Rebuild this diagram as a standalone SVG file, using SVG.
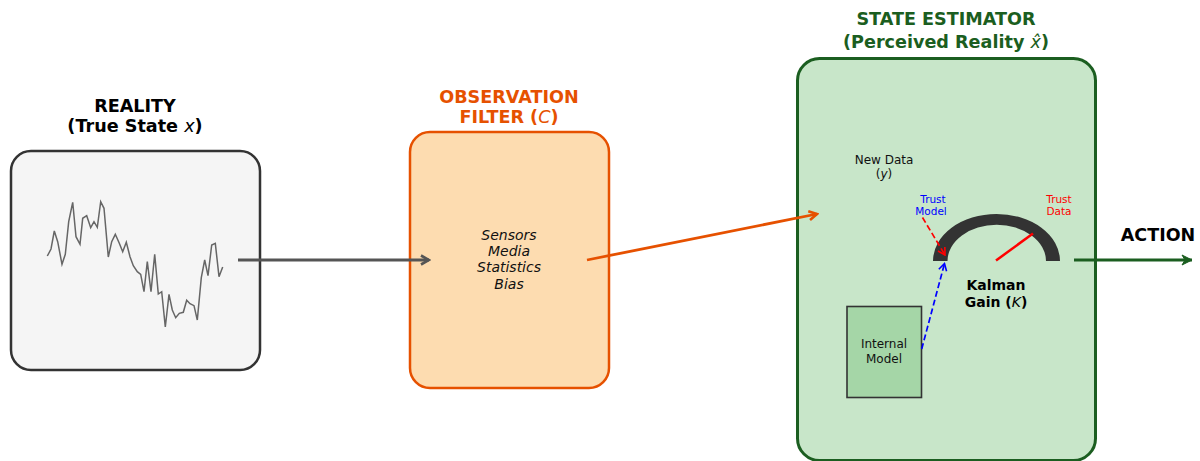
<svg xmlns="http://www.w3.org/2000/svg" width="1200" height="461" viewBox="0 0 1200 461">
  <style>
    text { font-family: "DejaVu Sans", "Liberation Sans", sans-serif; text-anchor: middle; }
    .title { font-size: 17.6px; font-weight: bold; }
    .body { font-size: 14px; font-style: italic; fill: #111; }
    .small { font-size: 12px; fill: #111; }
    .tiny { font-size: 10.5px; }
    .conn { fill: none; stroke-width: 2.8; }
    .dash { stroke-width: 1.7; stroke-dasharray: 6,3; }
  </style>
  <defs>
    <marker id="headGray" viewBox="0 0 12 12" refX="10" refY="6" markerWidth="12" markerHeight="12" markerUnits="userSpaceOnUse" orient="auto">
      <polyline points="2,1.5 10,6 2,10.5" fill="none" stroke="#555" stroke-width="2.6"/>
    </marker>
    <marker id="headOrange" viewBox="0 0 12 12" refX="10" refY="6" markerWidth="12" markerHeight="12" markerUnits="userSpaceOnUse" orient="auto">
      <polyline points="2,1.5 10,6 2,10.5" fill="none" stroke="#e65100" stroke-width="2.6"/>
    </marker>
    <marker id="headGreen" viewBox="0 0 12 12" refX="11" refY="6" markerWidth="12" markerHeight="12" markerUnits="userSpaceOnUse" orient="auto">
      <path d="M1,1 L11,6 L1,11 L4,6 Z" fill="#1b5e20" stroke="#1b5e20" stroke-width="1"/>
    </marker>
    <marker id="headRed" viewBox="0 0 10 10" refX="9" refY="5" markerWidth="10" markerHeight="10" markerUnits="userSpaceOnUse" orient="auto">
      <polyline points="2,1 9,5 2,9" fill="none" stroke="#ff0000" stroke-width="1.6"/>
    </marker>
    <marker id="headBlue" viewBox="0 0 10 10" refX="9" refY="5" markerWidth="10" markerHeight="10" markerUnits="userSpaceOnUse" orient="auto">
      <polyline points="2,1 9,5 2,9" fill="none" stroke="#0000ff" stroke-width="1.6"/>
    </marker>
  </defs>

  <!-- Reality: true state signal -->
  <g id="reality">
    <rect x="11" y="151" width="249" height="219" rx="20" fill="#f5f5f5" stroke="#333" stroke-width="2.5"/>
    <polyline fill="none" stroke="#666" stroke-width="1.5" points="47.3,256 51,249 54.3,231 57.7,241.7 62,264.3 65.3,254.3 68.7,221.7 72.7,202.3 76,236.7 80,244.3 82.7,218.3 86.7,215.7 90.7,227.7 94,221.7 97.3,227.3 100.7,201.7 104,208.3 108.3,257 111.7,241.7 115.3,234.3 119.3,243.3 122.7,251.7 126.3,242.3 130,256.7 133.3,265.7 137.3,271.7 140.7,274.3 144,291.7 147.3,261.7 151,291.7 154.7,254.3 158.3,294 161.7,291.7 165.3,327 169,294.3 172.3,310 175.7,317.7 179.3,313.3 183.3,312.3 186.7,300.3 190,303.7 194,305.7 197.3,320 201.3,277.7 204.7,260 208,275.7 211.7,245 215.3,243.3 219,276.7 222.7,267"/>
    <text class="title" x="135" y="112">REALITY</text>
    <text class="title" x="135" y="132">(True State <tspan font-style="italic" font-weight="normal">x</tspan>)</text>
  </g>

  <!-- Observation filter -->
  <g id="filter">
    <rect x="410" y="132" width="199" height="256" rx="20" fill="#fddcb0" stroke="#e65100" stroke-width="2.5"/>
    <text class="title" x="509" y="103" fill="#e65100">OBSERVATION</text>
    <text class="title" x="509" y="123" fill="#e65100">FILTER (<tspan font-style="italic" font-weight="normal">C</tspan>)</text>
    <text class="body" x="509" y="240">Sensors</text>
    <text class="body" x="509" y="256">Media</text>
    <text class="body" x="509" y="272">Statistics</text>
    <text class="body" x="509" y="289">Bias</text>
  </g>

  <!-- State estimator -->
  <g id="estimator">
    <rect x="797.5" y="58.5" width="298" height="402" rx="22" fill="#c8e6c9" stroke="#1b5e20" stroke-width="3"/>
    <text class="title" x="946" y="25" fill="#1b5e20">STATE ESTIMATOR</text>
    <text class="title" x="946" y="48" fill="#1b5e20">(Perceived Reality <tspan font-style="italic" font-weight="normal">x̂</tspan>)</text>
    <text class="small" x="884" y="164">New Data</text>
    <text class="small" x="884" y="178">(<tspan font-style="italic">y</tspan>)</text>
  </g>

  <!-- Internal model -->
  <g id="internal-model">
    <rect x="847" y="306.5" width="74.5" height="91" fill="#a5d6a7" stroke="#333" stroke-width="1.6"/>
    <text class="small" x="884" y="348">Internal</text>
    <text class="small" x="884" y="362.5">Model</text>
  </g>

  <!-- Kalman gain dial -->
  <g id="kalman-gain">
    <path d="M933,261 A63.5,47 0 0 1 1060,261 L1046,261 A49,36 0 0 0 947.5,261 Z" fill="#333"/>
    <line x1="996" y1="260.5" x2="1033" y2="233.5" stroke="#ff0000" stroke-width="2.5"/>
    <text class="tiny" x="933" y="202.5" fill="#0000ff">Trust</text>
    <text class="tiny" x="931" y="214.5" fill="#0000ff">Model</text>
    <text class="tiny" x="1059" y="202.5" fill="#ff0000">Trust</text>
    <text class="tiny" x="1059" y="214.5" fill="#ff0000">Data</text>
    <text x="996" y="290" font-size="14" font-weight="bold">Kalman</text>
    <text x="996" y="307" font-size="14" font-weight="bold">Gain (<tspan font-style="italic" font-weight="normal">K</tspan>)</text>
  </g>

  <!-- Action output -->
  <g id="action">
    <text x="1158" y="241" font-size="17.5" font-weight="bold">ACTION</text>
  </g>

  <!-- Connectors -->
  <g id="connectors">
    <line class="conn" x1="238" y1="260" x2="429" y2="260" stroke="#555" marker-end="url(#headGray)"/>
    <line class="conn" x1="587" y1="260" x2="817" y2="214" stroke="#e65100" marker-end="url(#headOrange)"/>
    <line class="conn" x1="1074" y1="260" x2="1192" y2="260" stroke="#1b5e20" marker-end="url(#headGreen)"/>
    <line class="dash" x1="922.5" y1="217.5" x2="945" y2="255" stroke="#ff0000" marker-end="url(#headRed)"/>
    <line class="dash" x1="921.7" y1="349" x2="944.5" y2="263.5" stroke="#0000ff" marker-end="url(#headBlue)"/>
  </g>
</svg>
